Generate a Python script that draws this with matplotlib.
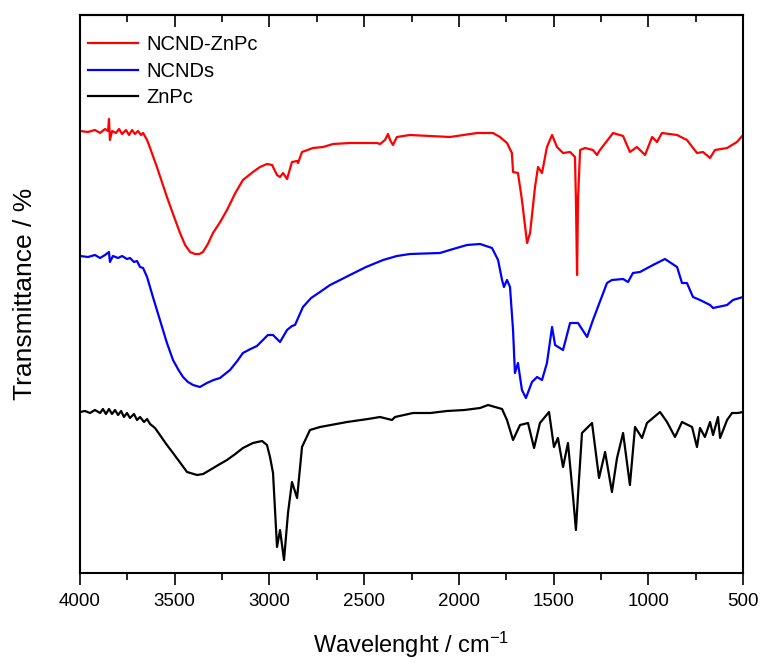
import matplotlib

matplotlib.use("Agg")
import matplotlib.pyplot as plt

# FTIR spectra (wavenumber cm-1, transmittance in arbitrary offset units)
red_wn = [4000, 3958, 3921, 3894, 3868, 3852, 3847, 3842, 3831, 3810, 3794, 3778, 3757, 3741,
          3725, 3710, 3694, 3678, 3667, 3646, 3630, 3594, 3541, 3505, 3472, 3445, 3419, 3393,
          3370, 3351, 3325, 3298, 3260, 3224, 3180, 3140, 3087, 3050, 3013, 2986, 2960, 2944,
          2928, 2907, 2881, 2854, 2849, 2828, 2770, 2717, 2664, 2575, 2432, 2416, 2390, 2374,
          2363, 2348, 2327, 2258, 2152, 2047, 1904, 1820, 1783, 1746, 1720, 1714, 1688, 1667,
          1640, 1624, 1598, 1582, 1561, 1535, 1508, 1482, 1450, 1413, 1387, 1382, 1376, 1371,
          1360, 1334, 1292, 1271, 1255, 1186, 1133, 1097, 1060, 1017, 980, 954, 928, 848, 796,
          743, 711, 674, 648, 584, 532, 500]
red_t = [442, 441, 443, 440, 444, 442, 454, 433, 442, 440, 444, 439, 443, 438,
         443, 439, 442, 438, 440, 433, 425, 406, 376, 357, 340, 328, 321, 319,
         319, 321, 329, 340, 351, 363, 380, 393, 401, 406, 409, 408, 398, 396,
         400, 394, 411, 412, 410, 421, 425, 426, 429, 430, 430, 429, 433, 439,
         433, 428, 436, 438, 437, 436, 440, 440, 436, 430, 420, 401, 400, 373,
         330, 340, 386, 406, 400, 426, 438, 426, 420, 421, 416, 373, 298, 373,
         423, 425, 423, 418, 423, 440, 437, 421, 426, 418, 436, 431, 440, 438, 433,
         420, 421, 415, 423, 425, 431, 438]

blue_wn = [4000, 3958, 3921, 3894, 3868, 3847, 3842, 3826, 3799, 3778, 3752, 3736, 3715, 3699,
           3683, 3667, 3646, 3615, 3578, 3541, 3509, 3480, 3456, 3430, 3403, 3367, 3330, 3295,
           3261, 3208, 3170, 3140, 3100, 3066, 3008, 2981, 2944, 2907, 2881, 2865, 2823, 2780,
           2733, 2680, 2627, 2575, 2490, 2400, 2327, 2258, 2100, 2030, 1957, 1888, 1825, 1793,
           1772, 1762, 1746, 1730, 1714, 1704, 1688, 1667, 1646, 1614, 1587, 1561, 1535, 1508,
           1492, 1450, 1413, 1371, 1323, 1292, 1218, 1192, 1133, 1107, 1081, 1044, 975, 912,
           848, 822, 796, 764, 727, 674, 658, 584, 553, 500]
blue_t = [317, 316, 318, 315, 318, 321, 311, 317, 315, 317, 314, 315, 311, 312,
          306, 305, 296, 276, 253, 230, 213, 203, 196, 191, 188, 186, 190, 193,
          195, 203, 212, 220, 224, 227, 238, 238, 231, 243, 247, 248, 266, 275,
          281, 288, 293, 298, 306, 313, 317, 319, 320, 324, 328, 329, 325, 313,
          293, 286, 293, 286, 243, 200, 210, 183, 175, 191, 196, 193, 210, 246,
          228, 223, 250, 250, 236, 253, 290, 293, 294, 291, 300, 301, 308, 314,
          306, 290, 290, 276, 273, 268, 265, 268, 273, 276]

black_wn = [4000, 3974, 3947, 3921, 3894, 3879, 3863, 3847, 3831, 3815, 3799, 3783, 3768, 3752,
            3736, 3715, 3699, 3683, 3662, 3646, 3630, 3604, 3578, 3545, 3509, 3470, 3435, 3382,
            3350, 3314, 3270, 3224, 3180, 3140, 3087, 3039, 3013, 2997, 2981, 2960, 2944, 2923,
            2902, 2881, 2854, 2828, 2786, 2733, 2590, 2480, 2416, 2353, 2337, 2242, 2150, 2063,
            1970, 1888, 1846, 1772, 1746, 1714, 1677, 1635, 1603, 1572, 1524, 1498, 1477, 1450,
            1424, 1397, 1382, 1371, 1350, 1297, 1260, 1228, 1192, 1165, 1133, 1097, 1070, 1033,
            1007, 938, 901, 859, 822, 769, 743, 727, 701, 674, 658, 632, 621, 584, 558, 526, 500]
black_t = [161, 162, 160, 163, 160, 164, 159, 164, 159, 163, 158, 162, 156, 160,
           155, 159, 153, 156, 151, 154, 149, 145, 138, 129, 120, 110, 101, 98,
           99, 103, 108, 113, 119, 125, 130, 132, 128, 116, 100, 26, 43, 13,
           60, 91, 75, 126, 143, 146, 151, 154, 156, 153, 156, 160, 160, 162,
           163, 165, 168, 164, 153, 133, 148, 150, 125, 150, 161, 126, 135, 106,
           130, 76, 43, 78, 140, 150, 95, 121, 81, 115, 140, 88, 146, 135,
           150, 161, 151, 136, 151, 146, 126, 145, 136, 151, 138, 156, 135, 153, 160, 160, 161]

series = [
    ("NCND-ZnPc", red_wn, red_t, "#ff0000"),
    ("NCNDs", blue_wn, blue_t, "#0000ff"),
    ("ZnPc", black_wn, black_t, "#000000"),
]
x_ticks = [4000, 3500, 3000, 2500, 2000, 1500, 1000, 500]

plt.rcParams["font.family"] = ["Liberation Sans", "DejaVu Sans"]
plt.rcParams["mathtext.default"] = "regular"

fig = plt.figure(figsize=(7.64, 6.63), dpi=100)
ax = fig.add_axes([80 / 764, 1 - 573 / 663, 663 / 764, 558 / 663])

for name, wn, t, color in series:
    ax.plot(wn, t, color=color, linewidth=1.6, label=name)

ax.set_xlim(4000, 500)
ax.set_ylim(0, 558)
ax.set_xticks(x_ticks)
ax.set_xticks([v - 250 for v in x_ticks[:-1]], minor=True)
ax.set_yticks([])
ax.tick_params(axis="x", which="major", direction="out", length=8.5, width=1.2,
               labelsize=13.5, pad=6)
ax.tick_params(axis="x", which="minor", direction="out", length=5, width=1.2)

top = ax.secondary_xaxis("top")
top.set_xticks(x_ticks)
top.set_xticks([v - 250 for v in x_ticks[:-1]], minor=True)
top.tick_params(axis="x", which="major", direction="in", length=8.5, width=1.2,
                labeltop=False)
top.tick_params(axis="x", which="minor", direction="in", length=5, width=1.2)
top.spines["top"].set_linewidth(1.5)

for side in ["left", "right", "bottom", "top"]:
    ax.spines[side].set_linewidth(1.5)

ax.set_xlabel("Wavelenght / cm$^{-1}$", fontsize=17, labelpad=14)
ax.set_ylabel("Transmittance / %", fontsize=19, labelpad=31)

ax.legend(loc="upper left", bbox_to_anchor=(88 / 764, 1 - 35 / 663),
          bbox_transform=fig.transFigure, frameon=False, fontsize=14.5,
          handlelength=2.5, handletextpad=0.4, labelspacing=0.38,
          borderpad=0, borderaxespad=0)

fig.savefig("out.png", dpi=100)
